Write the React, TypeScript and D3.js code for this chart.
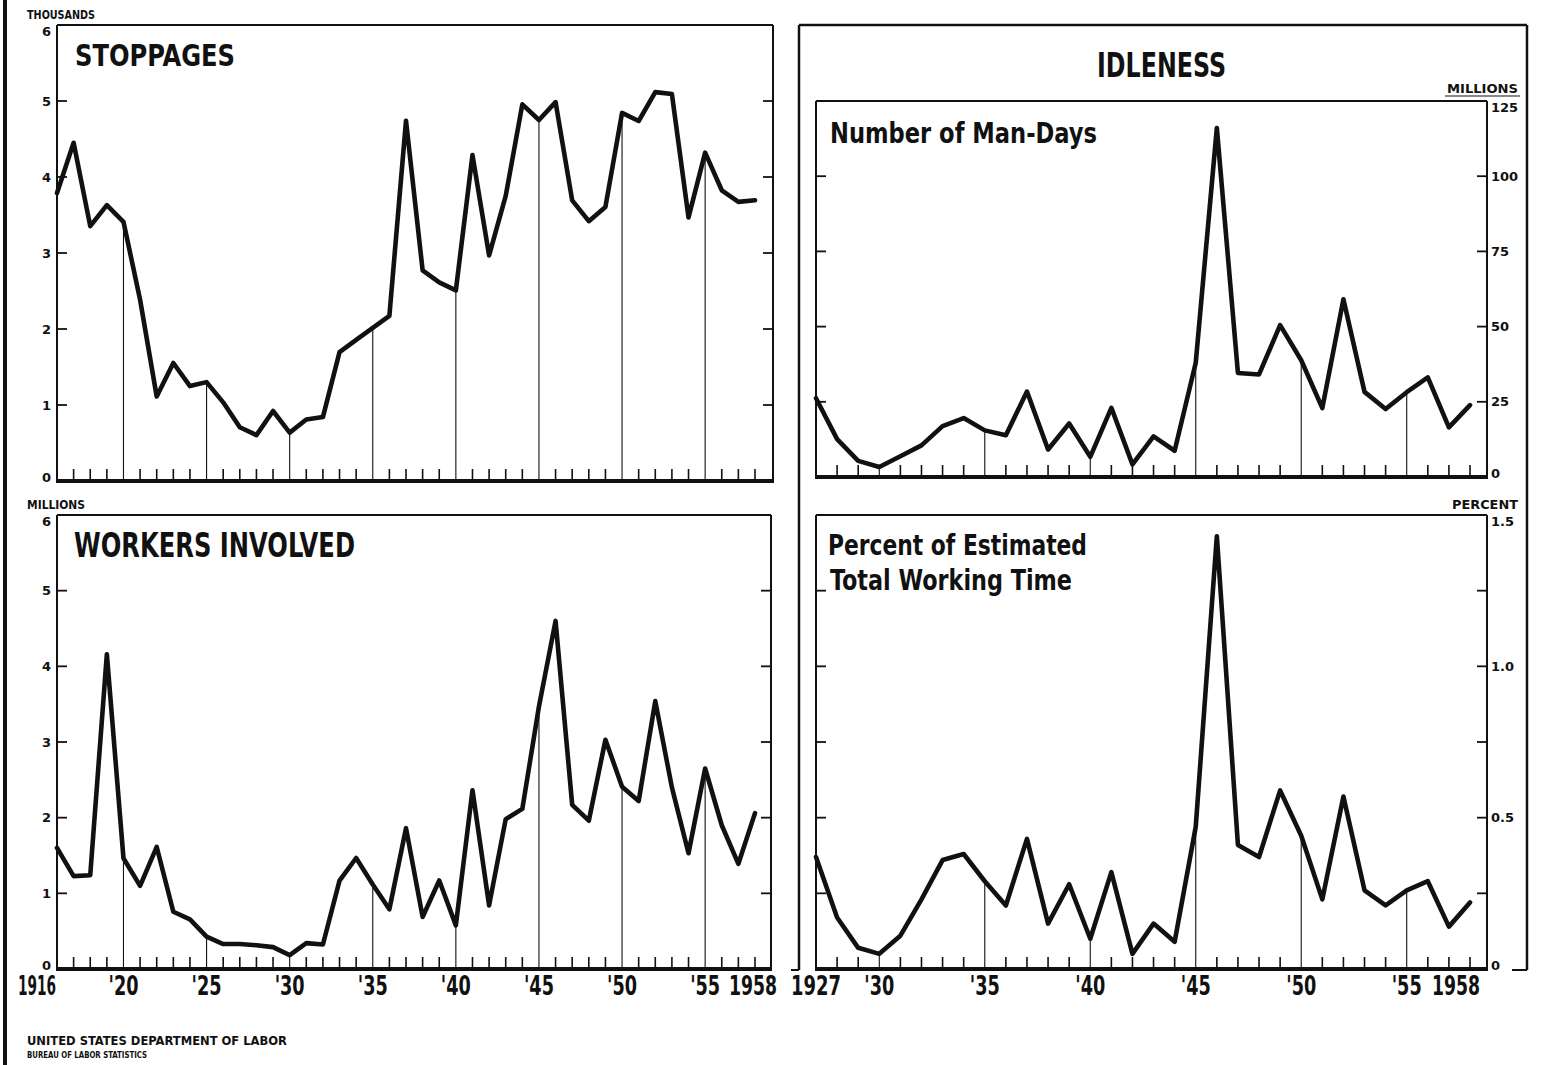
import React from "react";
import * as d3 from "d3";

// ---------- data ----------
const yearsA = d3.range(1916, 1959); // 1916..1958
const yearsB = d3.range(1927, 1959); // 1927..1958

// Work stoppages (thousands)
const stoppages = [
  3.789, 4.45, 3.353, 3.63, 3.411, 2.385, 1.112, 1.553, 1.249, 1.301,
  1.035, 0.707, 0.604, 0.921, 0.637, 0.81, 0.841, 1.695, 1.856, 2.014,
  2.172, 4.74, 2.772, 2.613, 2.508, 4.288, 2.968, 3.752, 4.956, 4.75,
  4.985, 3.693, 3.419, 3.606, 4.843, 4.737, 5.117, 5.091, 3.468, 4.32,
  3.825, 3.673, 3.694,
];

// Workers involved (millions)
const workers = [
  1.6, 1.227, 1.24, 4.16, 1.463, 1.099, 1.613, 0.757, 0.655, 0.428,
  0.33, 0.33, 0.314, 0.289, 0.183, 0.342, 0.324, 1.168, 1.467, 1.117,
  0.789, 1.861, 0.688, 1.17, 0.577, 2.363, 0.84, 1.981, 2.116, 3.47,
  4.6, 2.17, 1.96, 3.03, 2.41, 2.22, 3.54, 2.4, 1.53, 2.65,
  1.9, 1.39, 2.06,
];

// Man-days idle (millions)
const manDays = [
  26.2, 12.6, 5.35, 3.32, 6.89, 10.5, 16.9, 19.6, 15.5, 13.9,
  28.4, 9.15, 17.8, 6.7, 23.0, 4.18, 13.5, 8.72, 38.0, 116.0,
  34.6, 34.1, 50.5, 38.8, 22.9, 59.1, 28.3, 22.6, 28.2, 33.1,
  16.5, 23.9,
];

// Percent of estimated total working time
const percentTime = [
  0.37, 0.17, 0.07, 0.05, 0.11, 0.23, 0.36, 0.38, 0.29, 0.21,
  0.43, 0.15, 0.28, 0.1, 0.32, 0.05, 0.15, 0.09, 0.47, 1.43,
  0.41, 0.37, 0.59, 0.44, 0.23, 0.57, 0.26, 0.21, 0.26, 0.29,
  0.14, 0.22,
];

const leftTicks = [0, 1, 2, 3, 4, 5, 6];
const manDayTicks = [0, 25, 50, 75, 100, 125];
const pctTicks = [0, 0.25, 0.5, 0.75, 1.0, 1.25, 1.5];
const pctTickLabels = ["0", "", "0.5", "", "1.0", "", "1.5"];

const xLabelYearsA = [1916, 1920, 1925, 1930, 1935, 1940, 1945, 1950, 1955, 1958];
const xLabelTextA = ["1916", "'20", "'25", "'30", "'35", "'40", "'45", "'50", "'55", "1958"];
const xLabelYearsB = [1927, 1930, 1935, 1940, 1945, 1950, 1955, 1958];
const xLabelTextB = ["1927", "'30", "'35", "'40", "'45", "'50", "'55", "1958"];

const dropYearsA = [1920, 1925, 1930, 1935, 1940, 1945, 1950, 1955];
const dropYearsB = [1930, 1935, 1940, 1945, 1950, 1955];

// ---------- styling ----------
const NARROW = "'Liberation Sans Narrow','DejaVu Sans Condensed','Arial Narrow',sans-serif";
const WIDE = "'DejaVu Sans','Liberation Sans',sans-serif";
const INK = "#111";

type PanelProps = {
  x: d3.ScaleLinear<number, number>;
  y: d3.ScaleLinear<number, number>;
  years: number[];
  values: number[];
  yTicks: number[];
  yTickLabels: string[];
  dropYears: number[];
  left: number;
  right: number;
  axisSide: "left" | "right";
};

function Panel({ x, y, years, values, yTicks, yTickLabels, dropYears, left, right, axisSide }: PanelProps) {
  const [base, top] = y.range();
  const line = d3
    .line<number>()
    .x((_, i) => x(years[i]))
    .y((v) => y(v))
    .curve(d3.curveLinear);
  const [d0, d1] = y.domain();
  return (
    <g>
      {/* frame */}
      <line x1={left} x2={left} y1={top} y2={base} stroke={INK} strokeWidth={2} />
      <line x1={left} x2={right} y1={top} y2={top} stroke={INK} strokeWidth={2} />
      <line x1={right} x2={right} y1={top} y2={base} stroke={INK} strokeWidth={2} />
      <line x1={left - 1} x2={right + 1} y1={base} y2={base} stroke={INK} strokeWidth={4} />
      {/* inner y ticks on both sides */}
      {yTicks
        .filter((t) => t !== d0 && t !== d1)
        .map((t) => (
          <g key={"yt" + t}>
            <line x1={left} x2={left + 10} y1={y(t)} y2={y(t)} stroke={INK} strokeWidth={1.8} />
            <line x1={right} x2={right - 10} y1={y(t)} y2={y(t)} stroke={INK} strokeWidth={1.8} />
          </g>
        ))}
      {/* y tick labels */}
      {yTicks.map((t, i) => {
        const lbl = yTickLabels[i];
        if (!lbl) return null;
        let yy = y(t);
        if (t === d1) yy += 6;
        if (t === d0) yy -= 4;
        return (
          <text
            key={"yl" + t}
            x={axisSide === "left" ? left - 6 : right + 4}
            y={yy}
            dy="0.36em"
            textAnchor={axisSide === "left" ? "end" : "start"}
            fontFamily={WIDE}
            fontWeight="bold"
            fontSize={13}
            fill={INK}
          >
            {lbl}
          </text>
        );
      })}
      {/* year ticks */}
      {years
        .filter((yr) => yr !== years[0] && !dropYears.includes(yr))
        .map((yr) => (
          <line key={"xt" + yr} x1={x(yr)} x2={x(yr)} y1={base} y2={base - 12} stroke={INK} strokeWidth={1.6} />
        ))}
      {/* drop lines */}
      {dropYears.map((yr) => (
        <line
          key={"dl" + yr}
          x1={x(yr)}
          x2={x(yr)}
          y1={base}
          y2={y(values[years.indexOf(yr)])}
          stroke={INK}
          strokeWidth={1.1}
        />
      ))}
      {/* data line */}
      <path d={line(values) || ""} fill="none" stroke={INK} strokeWidth={4.6} strokeLinejoin="round" strokeLinecap="round" />
    </g>
  );
}

function YearLabel({ cx, text, width }: { cx: number; text: string; width: number }) {
  return (
    <text
      x={cx - width / 2}
      y={995}
      fontFamily={NARROW}
      fontWeight="bold"
      fontSize={27}
      textLength={width}
      lengthAdjust="spacingAndGlyphs"
      fill={INK}
    >
      {text}
    </text>
  );
}

export default function App() {
  const W = 1542;
  const H = 1065;

  const xA = d3.scaleLinear().domain([1916, 1958]).range([57, 755]);
  const xB = d3.scaleLinear().domain([1927, 1958]).range([816, 1470]);
  const yStop = d3.scaleLinear().domain([0, 6]).range([481, 25]);
  const yWork = d3.scaleLinear().domain([0, 6]).range([969, 515]);
  const yMan = d3.scaleLinear().domain([0, 125]).range([477, 101]);
  const yPct = d3.scaleLinear().domain([0, 1.5]).range([969, 515]);

  const labelCenterA = (yr: number) => (yr === 1916 ? 37 : yr === 1958 ? 753 : xA(yr));
  const labelCenterB = (yr: number) => (yr === 1958 ? 1456 : xB(yr));
  const labelWidth = (t: string, yr: number, right: boolean) =>
    t.length === 4 ? (yr === 1916 ? 38 : right && yr === 1927 ? 50 : 48) : 30;

  return (
    <svg
      width={W}
      height={H}
      viewBox={`0 0 ${W} ${H}`}
      style={{ position: "absolute", left: 0, top: 0, background: "#fff" }}
    >
      <rect x={0} y={0} width={W} height={H} fill="#fff" />
      {/* page edge line */}
      <line x1={5} x2={5} y1={0} y2={H} stroke={INK} strokeWidth={4} />

      {/* ---- left: stoppages ---- */}
      <text x={27} y={19} fontFamily={NARROW} fontWeight="bold" fontSize={13} textLength={68} lengthAdjust="spacingAndGlyphs" fill={INK}>
        THOUSANDS
      </text>
      <Panel
        x={xA}
        y={yStop}
        years={yearsA}
        values={stoppages}
        yTicks={leftTicks}
        yTickLabels={leftTicks.map(String)}
        dropYears={dropYearsA}
        left={57}
        right={773}
        axisSide="left"
      />
      <text x={75} y={66} fontFamily={NARROW} fontWeight="bold" fontSize={31} textLength={160} lengthAdjust="spacingAndGlyphs" fill={INK}>
        STOPPAGES
      </text>

      {/* ---- left: workers involved ---- */}
      <text x={27} y={509} fontFamily={NARROW} fontWeight="bold" fontSize={13} textLength={58} lengthAdjust="spacingAndGlyphs" fill={INK}>
        MILLIONS
      </text>
      <Panel
        x={xA}
        y={yWork}
        years={yearsA}
        values={workers}
        yTicks={leftTicks}
        yTickLabels={leftTicks.map(String)}
        dropYears={dropYearsA}
        left={57}
        right={771}
        axisSide="left"
      />
      <text x={74} y={557} fontFamily={NARROW} fontWeight="bold" fontSize={33} textLength={281} lengthAdjust="spacingAndGlyphs" fill={INK}>
        WORKERS INVOLVED
      </text>
      {xLabelYearsA.map((yr, i) => (
        <YearLabel key={"xa" + yr} cx={labelCenterA(yr)} text={xLabelTextA[i]} width={labelWidth(xLabelTextA[i], yr, false)} />
      ))}

      {/* ---- right: idleness outer frame ---- */}
      <line x1={799} x2={1527} y1={25} y2={25} stroke={INK} strokeWidth={2.5} />
      <line x1={799} x2={799} y1={25} y2={970} stroke={INK} strokeWidth={2.5} />
      <line x1={791} x2={799} y1={970} y2={970} stroke={INK} strokeWidth={2} />
      <line x1={1527} x2={1527} y1={25} y2={970} stroke={INK} strokeWidth={2.5} />
      <line x1={1512} x2={1527} y1={970} y2={970} stroke={INK} strokeWidth={2} />
      <text x={1097} y={77} fontFamily={NARROW} fontWeight="bold" fontSize={33} textLength={129} lengthAdjust="spacingAndGlyphs" fill={INK}>
        IDLENESS
      </text>

      {/* man-days */}
      <text x={1447} y={93} fontFamily={NARROW} fontWeight="bold" fontSize={13} textLength={71} lengthAdjust="spacingAndGlyphs" fill={INK}>
        MILLIONS
      </text>
      <line x1={1445} x2={1520} y1={96} y2={96} stroke={INK} strokeWidth={1} />
      <Panel
        x={xB}
        y={yMan}
        years={yearsB}
        values={manDays}
        yTicks={manDayTicks}
        yTickLabels={manDayTicks.map(String)}
        dropYears={dropYearsB}
        left={816}
        right={1487}
        axisSide="right"
      />
      <text x={830} y={143} fontFamily={NARROW} fontWeight="bold" fontSize={29} textLength={267} lengthAdjust="spacingAndGlyphs" fill={INK}>
        Number of Man-Days
      </text>

      {/* percent */}
      <text x={1452} y={509} fontFamily={NARROW} fontWeight="bold" fontSize={13} textLength={66} lengthAdjust="spacingAndGlyphs" fill={INK}>
        PERCENT
      </text>
      <Panel
        x={xB}
        y={yPct}
        years={yearsB}
        values={percentTime}
        yTicks={pctTicks}
        yTickLabels={pctTickLabels}
        dropYears={dropYearsB}
        left={816}
        right={1487}
        axisSide="right"
      />
      <text x={828} y={555} fontFamily={NARROW} fontWeight="bold" fontSize={29} textLength={259} lengthAdjust="spacingAndGlyphs" fill={INK}>
        Percent of Estimated
      </text>
      <text x={830} y={590} fontFamily={NARROW} fontWeight="bold" fontSize={29} textLength={242} lengthAdjust="spacingAndGlyphs" fill={INK}>
        Total Working Time
      </text>
      {xLabelYearsB.map((yr, i) => (
        <YearLabel key={"xb" + yr} cx={labelCenterB(yr)} text={xLabelTextB[i]} width={labelWidth(xLabelTextB[i], yr, true)} />
      ))}

      {/* footer */}
      <text x={27} y={1045} fontFamily={NARROW} fontWeight="bold" fontSize={12} textLength={260} lengthAdjust="spacingAndGlyphs" fill={INK}>
        UNITED STATES DEPARTMENT OF LABOR
      </text>
      <text x={27} y={1058} fontFamily={NARROW} fontWeight="bold" fontSize={8} textLength={120} lengthAdjust="spacingAndGlyphs" fill={INK}>
        BUREAU OF LABOR STATISTICS
      </text>
    </svg>
  );
}
